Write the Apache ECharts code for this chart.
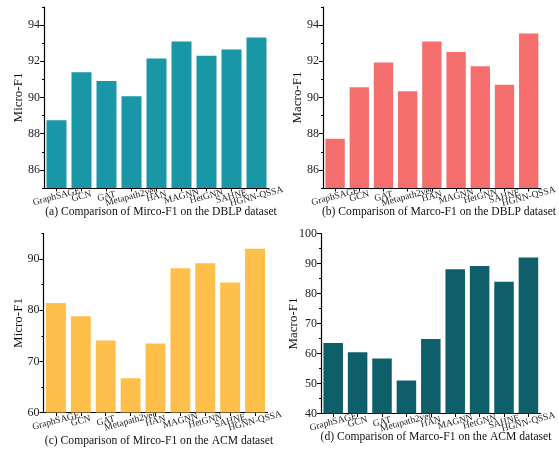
<!DOCTYPE html>
<html>
<head>
<meta charset="utf-8">
<script src="https://cdn.jsdelivr.net/npm/echarts@6/dist/echarts.min.js"></script>
<style>
html,body{margin:0;padding:0;background:#fff;}
#c{width:559px;height:449px;}
</style>
</head>
<body>
<div id="c"></div>
<script>
// ---- data ----
const categories = ['GraphSAGE','GCN','GAT','Metapath2vec','HAN','MAGNN','HetGNN','SAHNE','HGNN-QSSA'];
const dblpMicro = [88.74, 91.39, 90.91, 90.07, 92.15, 93.09, 92.31, 92.65, 93.31];
const dblpMacro = [87.72, 90.56, 91.93, 90.35, 93.09, 92.52, 91.72, 90.70, 93.54];
const acmMicro  = [81.4, 78.8, 74.1, 66.7, 73.5, 88.2, 89.2, 85.4, 92.0];
const acmMacro  = [63.5, 60.4, 58.3, 51.0, 64.8, 88.1, 89.2, 83.9, 92.0];

const dblpMajorTicks = [86, 88, 90, 92, 94];
const dblpMinorTicks = [85, 87, 89, 91, 93, 95];
const acmMicroMajorTicks = [60, 70, 80, 90];
const acmMicroMinorTicks = [65, 75, 85, 95];
const acmMacroMajorTicks = [40, 50, 60, 70, 80, 90, 100];
const acmMacroMinorTicks = [45, 55, 65, 75, 85, 95];

const captions = [
  '(a) Comparison of Mirco-F1 on the DBLP dataset',
  '(b) Comparison of Marco-F1 on the DBLP dataset',
  '(c) Comparison of Mirco-F1 on the ACM dataset',
  '(d) Comparison of Marco-F1 on the ACM dataset'
];
const yNames = ['Micro-F1', 'Macro-F1', 'Micro-F1', 'Macro-F1'];

// ---- layout / style ----
const FONT = 'Liberation Serif';
const panels = [
  {grid:{left:44, top:7, width:225, height:181}, data:dblpMicro, color:'#1A97A6', min:85, max:95, major:dblpMajorTicks, minor:dblpMinorTicks, nameGap:19, cap:{x:156, y:201}},
  {grid:{left:323, top:7, width:225, height:181}, data:dblpMacro, color:'#F36E6C', min:85, max:95, major:dblpMajorTicks, minor:dblpMinorTicks, nameGap:19, cap:{x:434, y:201}},
  {grid:{left:43.5, top:233.5, width:224, height:179}, data:acmMicro, color:'#FEC04A', min:60, max:95, major:acmMicroMajorTicks, minor:acmMicroMinorTicks, nameGap:18.5, cap:{x:154, y:430}},
  {grid:{left:321, top:233.5, width:222, height:180}, data:acmMacro, color:'#0F5F6B', min:40, max:100, major:acmMacroMajorTicks, minor:acmMacroMinorTicks, nameGap:20.5, cap:{x:431, y:426}}
];

const option = {
  backgroundColor:'#fff',
  animation:false,
  title:[], grid:[], xAxis:[], yAxis:[], series:[]
};

panels.forEach((p, i) => {
  option.grid.push(Object.assign({containLabel:false}, p.grid));
  option.title.push({
    text: captions[i], left: p.cap.x, top: p.cap.y, textAlign:'center',
    textStyle:{fontFamily:FONT, fontSize:11.6, fontWeight:'normal', color:'#111'}
  });
  option.xAxis.push({
    type:'category', gridIndex:i, data:categories,
    axisLine:{show:true, lineStyle:{color:'#000', width:1.2}},
    axisTick:{show:true, alignWithLabel:true, length:3.5, lineStyle:{color:'#000', width:1}},
    axisLabel:{rotate:15, align:'center', verticalAlign:'middle', margin:8.5, interval:0,
      fontFamily:FONT, fontSize:9.5, color:'#222'}
  });
  option.yAxis.push({
    type:'value', gridIndex:i, min:p.min, max:p.max,
    name: yNames[i], nameLocation:'middle', nameGap:p.nameGap, nameRotate:90,
    nameMoveOverlap:false,
    nameTextStyle:{fontFamily:FONT, fontSize:13, color:'#111'},
    splitLine:{show:false},
    axisLine:{show:true, lineStyle:{color:'#000', width:1.2}},
    axisTick:{show:true, length:4, customValues:p.major, lineStyle:{color:'#000', width:1}},
    axisLabel:{customValues:p.major, margin:4, fontFamily:FONT, fontSize:12, color:'#222'}
  });
  option.series.push({
    type:'bar', xAxisIndex:i, yAxisIndex:2*i, data:p.data,
    barCategoryGap:'20%',
    itemStyle:{color:p.color}
  });
});
// minor tick overlay axes
panels.forEach((p, i) => {
  option.yAxis.splice(2*i+1, 0, {
    type:'value', gridIndex:i, min:p.min, max:p.max, position:'left',
    splitLine:{show:false}, axisLine:{show:false},
    axisTick:{show:true, length:2, customValues:p.minor, lineStyle:{color:'#000', width:1}},
    axisLabel:{show:false}
  });
});

const chart = echarts.init(document.getElementById('c'), null, {renderer:'canvas'});
chart.setOption(option);
</script>
</body>
</html>
